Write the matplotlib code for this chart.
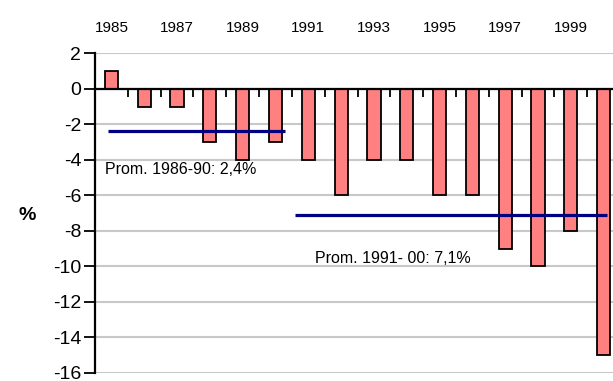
import matplotlib
matplotlib.use("Agg")
import matplotlib.pyplot as plt
import numpy as np

plt.rcParams['font.family'] = ['Liberation Sans', 'DejaVu Sans']
plt.rcParams['axes.unicode_minus'] = False

years = list(range(1985, 2001))
values = [1, -1, -1, -3, -4, -3, -4, -6, -4, -4, -6, -6, -9, -10, -8, -15]
year_labels = [str(y) for y in range(1985, 2000, 2)]
y_ticks = list(range(2, -17, -2))

avg_values = [-2.4, -7.1]
avg_labels = ["Prom. 1986-90: 2,4%", "Prom. 1991- 00: 7,1%"]
avg_spans = [(1984.9, 1990.3), (1990.6, 2000.1)]
avg_label_pos = [(1984.8, -4.55), (1991.2, -9.55)]

fig = plt.figure(figsize=(6.13, 3.81), dpi=100)
ax = fig.add_axes([0.155, 0.021, 0.8565, 0.839])

ax.set_xlim(1984.5, 2000.5)
ax.set_ylim(-16, 2)

# horizontal gridlines
ax.set_yticks(y_ticks)
ax.yaxis.grid(True, color='#c8c8c8', linewidth=1.5, zorder=0)
ax.set_axisbelow(True)

ax.bar(years, values, width=0.4, color='#ff8080', edgecolor='black',
       linewidth=1.3, zorder=3)

for v, (x0, x1) in zip(avg_values, avg_spans):
    ax.plot([x0, x1], [v, v], color='#000080', linewidth=2.3, zorder=4,
            solid_capstyle='butt')
for txt, (tx, ty) in zip(avg_labels, avg_label_pos):
    ax.text(tx, ty, txt, fontsize=11.5, ha='left', va='center', zorder=5)

# spines: left axis, category axis crossing at zero
for s in ['top', 'right']:
    ax.spines[s].set_visible(False)
ax.spines['left'].set_linewidth(1.6)
ax.spines['bottom'].set_position(('data', 0))
ax.spines['bottom'].set_linewidth(1.6)
ax.spines['bottom'].set_zorder(5)

ax.set_xticks([])
ax.set_xticks(np.arange(1985.5, 2000.5, 1.0), minor=True)
ax.tick_params(axis='x', which='minor', direction='out', length=6, width=1.3,
               labelbottom=False)
ax.tick_params(axis='y', direction='out', length=8, width=1.3,
               labelsize=14, pad=2)

# year labels along the top
sec = ax.secondary_xaxis('top')
sec.set_xticks(list(range(1985, 2000, 2)))
sec.set_xticklabels(year_labels, fontsize=11)
sec.tick_params(length=0, pad=13)
sec.spines['top'].set_visible(False)

fig.text(0.045, 0.435, '%', fontsize=14, fontweight='bold',
         ha='center', va='center')

fig.savefig('out.png', dpi=100)
